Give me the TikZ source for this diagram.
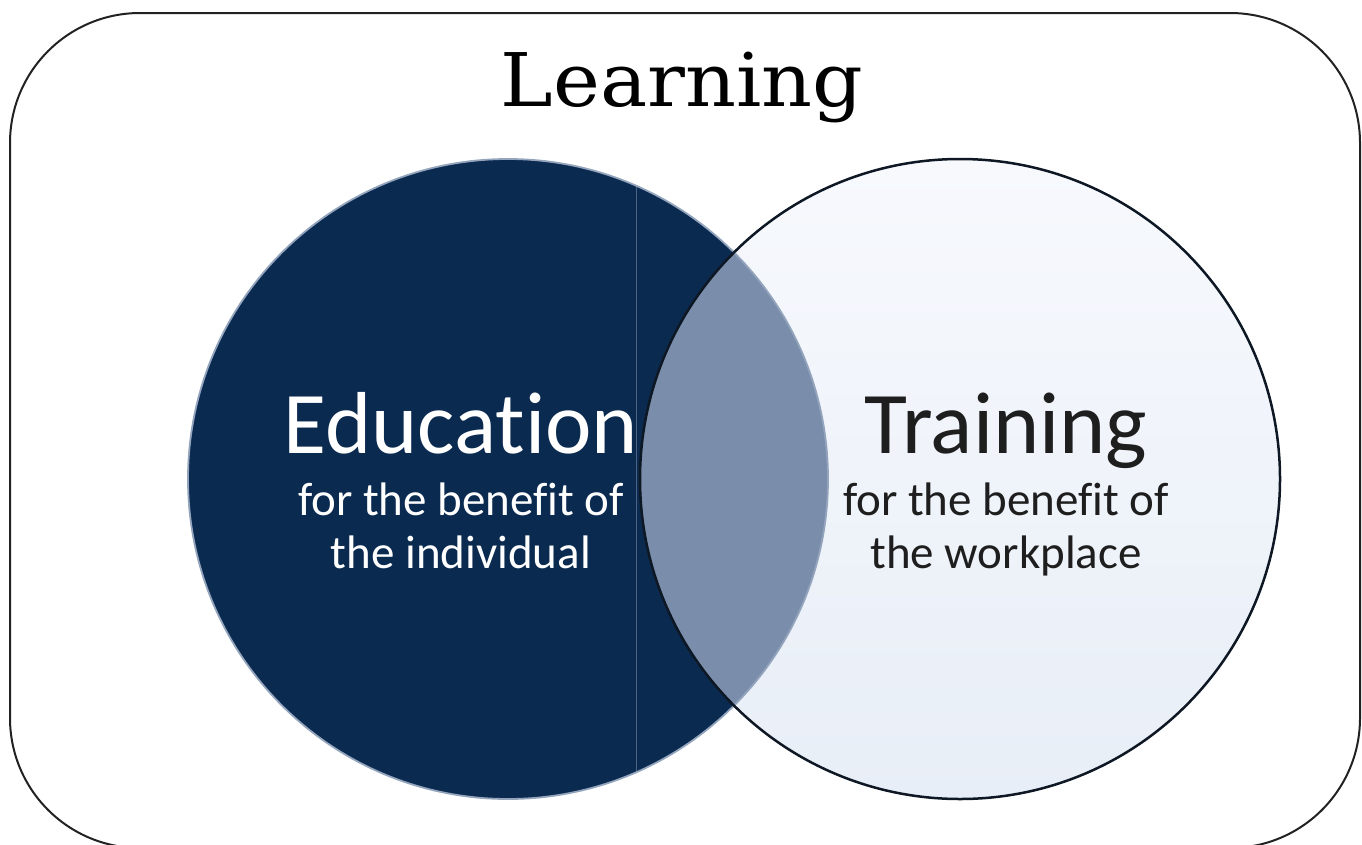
\documentclass[tikz,border=0pt]{standalone}
\usepackage{fontspec}
\setmainfont{Carlito}[Ligatures=NoCommon]
\newfontfamily\titlefont{DejaVu Serif}
\definecolor{navy}{HTML}{0B2A50}
\definecolor{lensc}{HTML}{7A8EAC}
\definecolor{paletop}{HTML}{F7F9FD}
\definecolor{palebot}{HTML}{E8EEF7}
\definecolor{rimc}{HTML}{93A4BC}
\definecolor{edgec}{HTML}{0E1724}
\definecolor{darktext}{HTML}{1E1E1E}
\definecolor{framec}{HTML}{222222}
\definecolor{seamc}{HTML}{4E6384}
\begin{document}
\begin{tikzpicture}[x=1pt,y=-1pt,
  frame/.style={draw=framec,line width=2pt,rounded corners=130pt},
  bigword/.style={anchor=base,font=\fontsize{88}{96}\selectfont,inner sep=0pt},
  subword/.style={anchor=base,font=\fontsize{47}{53}\selectfont,inner sep=0pt}]
\useasboundingbox (0,0) rectangle (1362,844);
\begin{scope}
\clip (0,0) rectangle (1362,844);
\draw[frame] (10,13) rectangle (1360,848);
\end{scope}
\node[anchor=base,inner sep=0pt] (learn) at (682,106) {\titlefont\fontsize{74}{80}\selectfont\scalebox{1.07}[1]{Learning}};
% left circle
\fill[navy] (508,479) circle (320);
\begin{scope}
\clip (508,479) circle (320);
\draw[seamc,line width=0.8pt] (636,150) -- (636,800);
\end{scope}
% right circle
\shade[top color=paletop,bottom color=palebot] (960,479) circle (320);
% lens
\begin{scope}
\clip (508,479) circle (320);
\fill[lensc] (960,479) circle (320);
\end{scope}
\draw[rimc,line width=1.8pt] (508,479) circle (320);
\draw[edgec,line width=2.5pt] (960,479) circle (320);
% texts
\node[bigword,text=white] (edu) at (461,453) {Education};
\node[subword,text=white] (edusub1) at (461,515) {for the benefit of};
\node[subword,text=white] (edusub2) at (461,568) {the individual};
\node[bigword,text=darktext] (tra) at (1006,453) {Training};
\node[subword,text=darktext] (trasub1) at (1006,515) {for the benefit of};
\node[subword,text=darktext] (trasub2) at (1006,568) {the workplace};
\end{tikzpicture}
\end{document}
